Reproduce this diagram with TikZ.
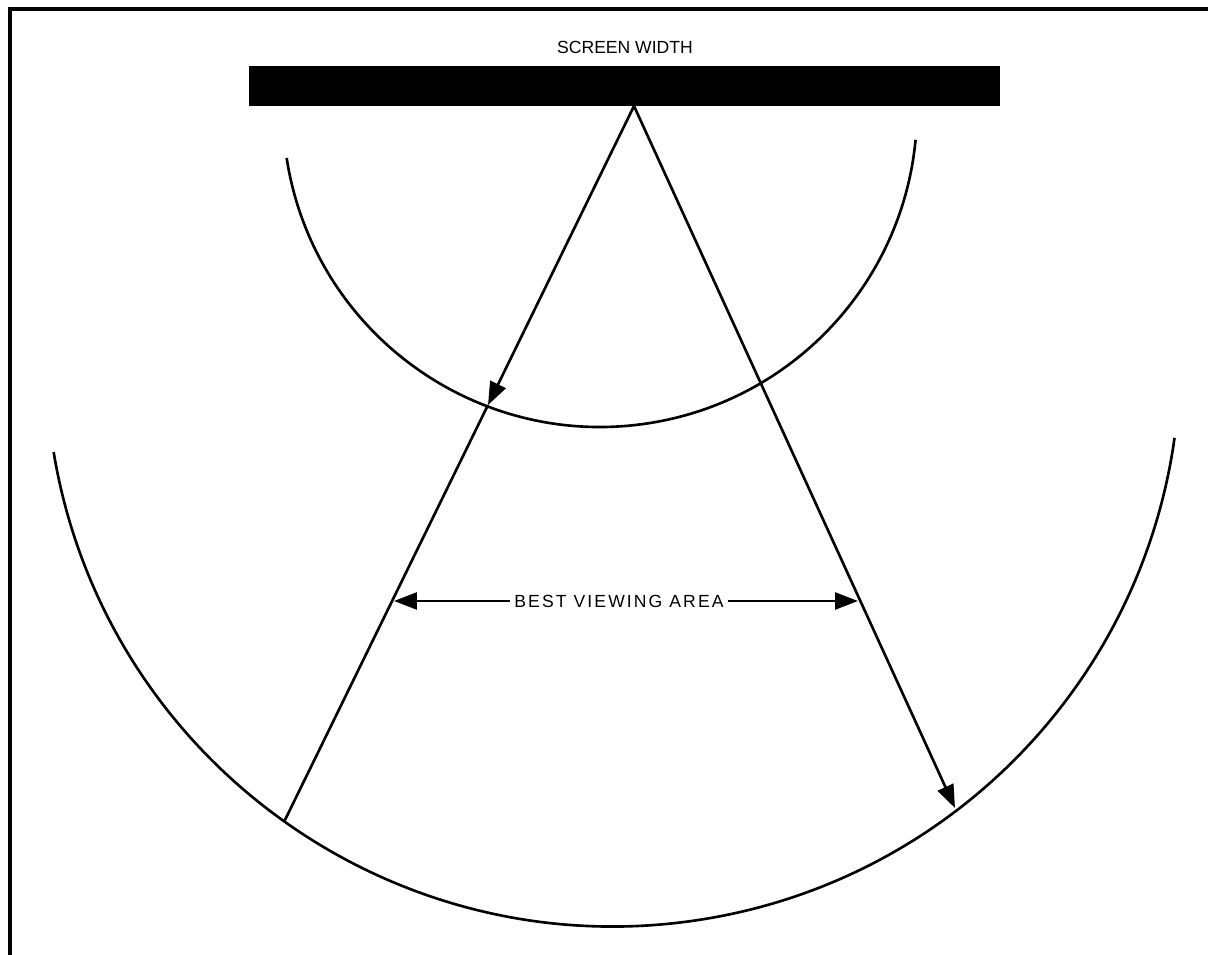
\documentclass[tikz,border=0pt]{standalone}
\usepackage{fontspec}
\setmainfont{Liberation Sans}
\usetikzlibrary{arrows.meta}
\begin{document}
\begin{tikzpicture}[x=0.02cm, y=-0.02cm, line width=1.5pt,
		>={Triangle[length=0.46cm, width=0.34cm]},
		lettering/.style={font=\fontsize{10}{12}\selectfont, inner sep=2pt}]
	\useasboundingbox (0,0) rectangle (1208,955);
	% page frame
	\draw[line width=2.4pt] (1208,9) -- (10,9) -- (10,955);
	% screen
	\node[fill=black, minimum width=15.02cm, minimum height=0.8cm, inner sep=0pt] (screen) at (624.5,86) {};
	\node[lettering] (screenlabel) at (625,47) {SCREEN WIDTH};
	\coordinate (apex) at (634,106);
	\coordinate (nearleft) at (488,405);
	\coordinate (farleft) at (284,822);
	\coordinate (farright) at (955,808);
	% viewing arcs
	\draw (600,110) ++(171.3:317) arc[start angle=171.3, end angle=5.4, radius=317];
	\draw (613,359.5) ++(170.6:567) arc[start angle=170.6, end angle=7.95, radius=567];
	% viewing lines
	\draw[->] (apex) -- (nearleft);
	\draw (nearleft) -- (farleft);
	\draw[->] (apex) -- (farright);
	% best viewing area
	\node[lettering] (best) at (619,601) {\addfontfeature{LetterSpace=12}BEST VIEWING AREA};
	\coordinate (bestleft) at (394,601);
	\coordinate (bestright) at (858,601);
	\draw[->] (best.west) -- (bestleft);
	\draw[->] (best.east) -- (bestright);
\end{tikzpicture}
\end{document}
